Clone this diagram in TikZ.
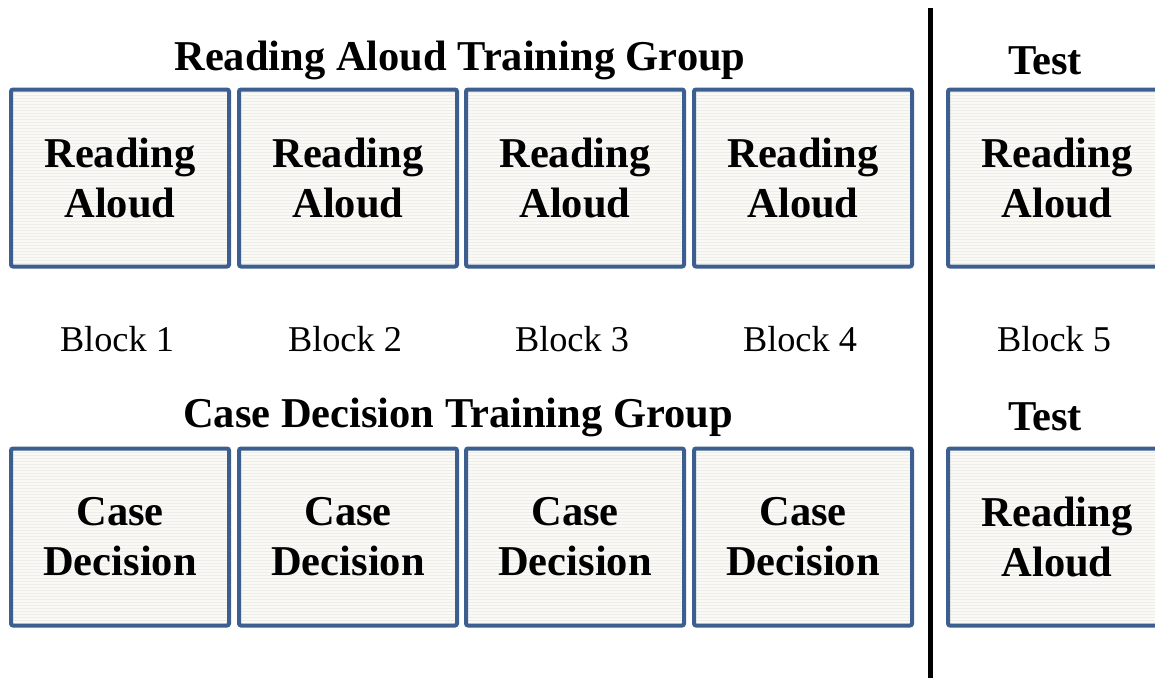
\documentclass[tikz,border=0pt]{standalone}
\usepackage{fontspec}
\setmainfont{Liberation Serif}
\usetikzlibrary{patterns}
\definecolor{boxblue}{HTML}{3C5F8F}
\definecolor{boxfill}{HTML}{FAF9F4}
\begin{document}
\begin{tikzpicture}[x=1pt,y=-1pt,
  cell/.style={draw=boxblue,line width=4pt,rounded corners=2pt,minimum width=218pt,minimum height=177pt,
    preaction={fill=boxfill},pattern=horizontal lines,pattern color=black!7,
    font=\bfseries\fontsize{42.5}{50}\selectfont,align=center,inner sep=0pt},
  title/.style={font=\bfseries\fontsize{42.5}{46}\selectfont,inner sep=0pt},
  blk/.style={font=\fontsize{36.3}{42}\selectfont,inner sep=0pt}]
\clip (0,0) rectangle (1155,678);
\useasboundingbox (0,0) rectangle (1155,678);
% top row
\node[cell] (r1) at (120,178) {Reading\\Aloud};
\node[cell] (r2) at (348,178) {Reading\\Aloud};
\node[cell] (r3) at (575,178) {Reading\\Aloud};
\node[cell] (r4) at (803,178) {Reading\\Aloud};
\node[cell] (r5) at (1057,178) {Reading\\Aloud};
% bottom row
\node[cell] (c1) at (120,537) {Case\\Decision};
\node[cell] (c2) at (348,537) {Case\\Decision};
\node[cell] (c3) at (575,537) {Case\\Decision};
\node[cell] (c4) at (803,537) {Case\\Decision};
\node[cell] (c5) at (1057,537) {Reading\\Aloud};
% titles
\node[title] (t1) at (460,60) {Reading Aloud Training Group};
\node[title] (t2) at (1045,61) {Test};
\node[title] (t3) at (458,417) {Case Decision Training Group};
\node[title] (t4) at (1045,417) {Test};
% blocks
\node[blk] (b1) at (117,339) {Block 1};
\node[blk] (b2) at (345,339) {Block 2};
\node[blk] (b3) at (572,339) {Block 3};
\node[blk] (b4) at (800,339) {Block 4};
\node[blk] (b5) at (1054,339) {Block 5};
% divider
\coordinate (d1) at (930,8);
\coordinate (d2) at (930,678);
\draw[line width=5pt] (d1) -- (d2);
\end{tikzpicture}
\end{document}
